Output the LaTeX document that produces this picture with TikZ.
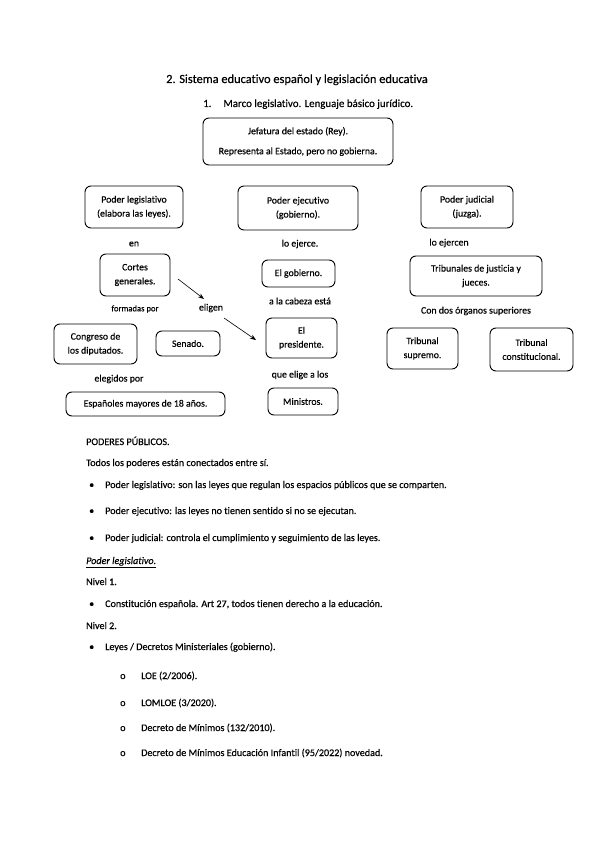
\documentclass[tikz,border=0pt]{standalone}
\usepackage{fontspec}
\setmainfont{Carlito}[FakeBold=0.35,Ligatures=NoCommon]
\usetikzlibrary{arrows.meta}
\begin{document}
\begin{tikzpicture}[x=1pt,y=-1pt,
  box/.style={draw=black,line width=0.9pt,rounded corners=6pt,align=center,font=\fontsize{9.8}{14}\selectfont,inner sep=0pt},
  lbl/.style={font=\fontsize{9.8}{11}\selectfont,inner sep=0pt},
  txt/.style={font=\fontsize{10.1}{11}\selectfont,anchor=base west,inner sep=0pt},
  arr/.style={-{Stealth[length=6pt,width=4.5pt]},line width=0.6pt}]
\useasboundingbox (0,0) rectangle (599,848);
% titles
\node[anchor=base,inner sep=0pt,font=\fontsize{12.4}{14}\selectfont] (title) at (297,83) {2. Sistema educativo español y legislación educativa};
\node[anchor=base west,inner sep=0pt,font=\fontsize{10.9}{12}\selectfont] (sub) at (203,107) {1.\hspace{12pt}Marco legislativo. Lenguaje básico jurídico.};
% boxes
\node[box,minimum width=190pt,minimum height=47pt,font=\fontsize{9.8}{20}\selectfont] (jef) at (298,141.5) {Jefatura del estado (Rey).\\Representa al Estado, pero no gobierna.};
\node[box,minimum width=98pt,minimum height=42pt] (leg) at (134,207) {Poder legislativo\\(elabora las leyes).};
\node[box,minimum width=120pt,minimum height=44pt] (eje) at (298,208) {Poder ejecutivo\\(gobierno).};
\node[box,minimum width=92pt,minimum height=42pt] (jud) at (467,207) {Poder judicial\\(juzga).};
\node[box,minimum width=70pt,minimum height=42pt] (cor) at (135,275) {Cortes\\generales.};
\node[box,minimum width=73pt,minimum height=27pt] (gob) at (298.5,273.5) {El gobierno.};
\node[box,minimum width=132pt,minimum height=40pt] (tri) at (476,276) {Tribunales de justicia y\\jueces.};
\node[box,minimum width=83pt,minimum height=40pt] (con) at (95.5,344) {Congreso de\\los diputados.};
\node[box,minimum width=64pt,minimum height=25pt] (sen) at (188,343.5) {Senado.};
\node[box,minimum width=71pt,minimum height=40pt] (pre) at (301.5,338) {El\\presidente.};
\node[box,minimum width=71pt,minimum height=41pt] (sup) at (422.5,348.5) {Tribunal\\supremo.};
\node[box,minimum width=83pt,minimum height=43pt] (cst) at (531.5,349.5) {Tribunal\\constitucional.};
\node[box,minimum width=159pt,minimum height=24pt] (esp) at (145.5,404) {Españoles mayores de 18 años.};
\node[box,minimum width=70pt,minimum height=27pt] (min) at (303,401.5) {Ministros.};
% labels
\node[lbl] (en) at (134,244) {en};
\node[lbl] (ejerce) at (300,244) {lo ejerce.};
\node[lbl] (ejercen) at (449,243) {lo ejercen};
\node[lbl,font=\fontsize{8.6}{10}\selectfont] (form) at (135,309) {formadas por};
\node[lbl] (eli) at (211,308) {eligen};
\node[lbl] (cab) at (300,301) {a la cabeza está};
\node[lbl] (dos) at (476,311) {Con dos órganos superiores};
\node[lbl] (elp) at (119,379) {elegidos por};
\node[lbl] (que) at (300,375) {que elige a los};
% arrows
\coordinate (a1s) at (178,279);
\coordinate (a1e) at (204,299);
\draw[arr] (a1s) -- (a1e);
\coordinate (a2s) at (224,318);
\coordinate (a2e) at (256,340);
\draw[arr] (a2s) -- (a2e);
% text
\node[txt] (p1) at (86,445) {PODERES PÚBLICOS.};
\node[txt] (p2) at (86,466) {Todos los poderes están conectados entre sí.};
\node[txt] (b1) at (89,488) {•};
\node[txt] (t1) at (105,488) {Poder legislativo: son las leyes que regulan los espacios públicos que se comparten.};
\node[txt] (b2) at (89,514) {•};
\node[txt] (t2) at (105,514) {Poder ejecutivo: las leyes no tienen sentido si no se ejecutan.};
\node[txt] (b3) at (89,541) {•};
\node[txt] (t3) at (105,541) {Poder judicial: controla el cumplimiento y seguimiento de las leyes.};
\node[txt] (pl) at (86,564) {\itshape\underline{Poder legislativo.}};
\node[txt] (n1) at (86,585) {Nivel 1.};
\node[txt] (b4) at (89,607) {•};
\node[txt] (t4) at (105,607) {Constitución española. Art 27, todos tienen derecho a la educación.};
\node[txt] (n2) at (86,629) {Nivel 2.};
\node[txt] (b5) at (89,650) {•};
\node[txt] (t5) at (105,650) {Leyes / Decretos Ministeriales (gobierno).};
\node[txt] (c1) at (120,679) {o};
\node[txt] (s1) at (141,679) {LOE (2/2006).};
\node[txt] (c2) at (120,706) {o};
\node[txt] (s2) at (141,706) {LOMLOE (3/2020).};
\node[txt] (c3) at (120,731) {o};
\node[txt] (s3) at (141,731) {Decreto de Mínimos (132/2010).};
\node[txt] (c4) at (120,756) {o};
\node[txt] (s4) at (141,756) {Decreto de Mínimos Educación Infantil (95/2022) novedad.};
\end{tikzpicture}
\end{document}
